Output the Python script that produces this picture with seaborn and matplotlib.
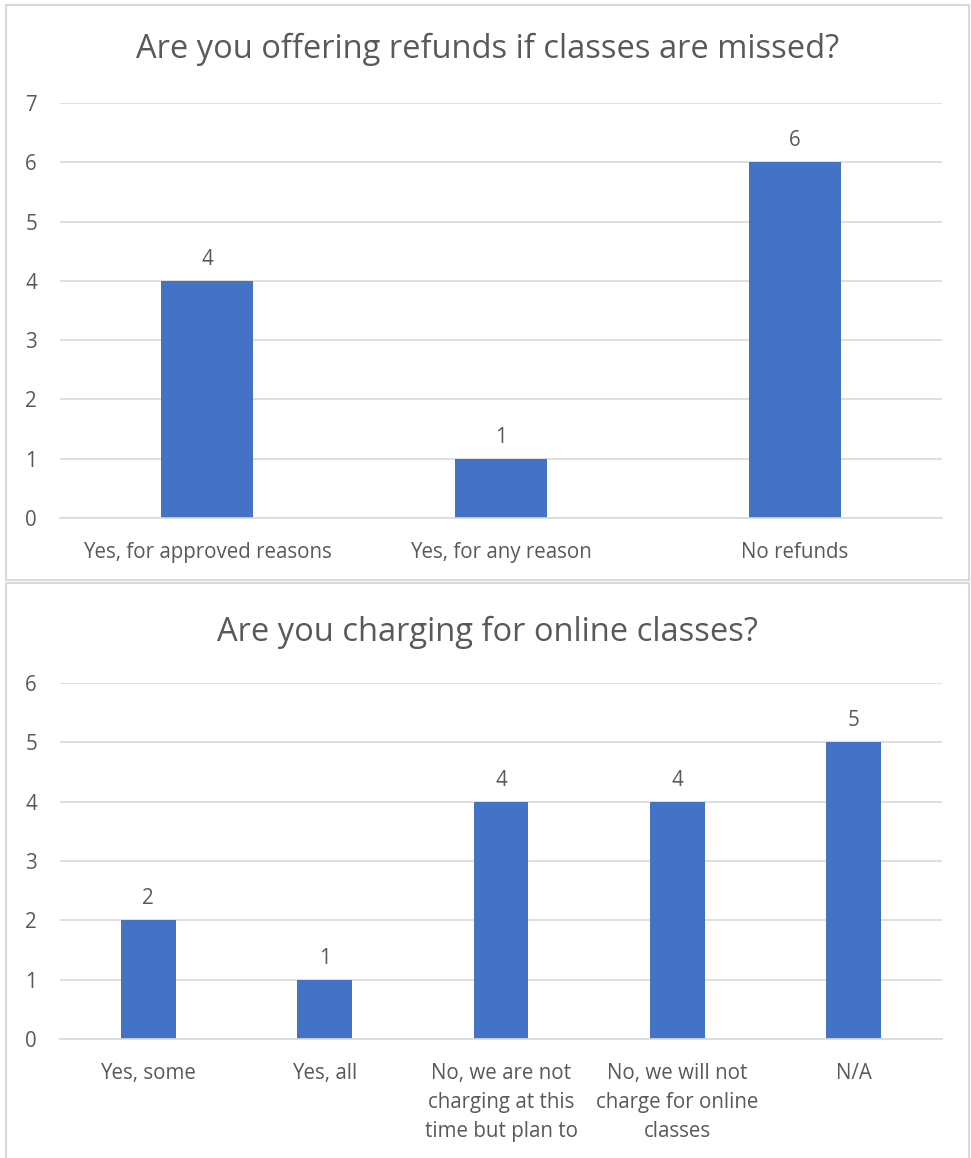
import matplotlib
matplotlib.use("Agg")
import matplotlib.pyplot as plt
import seaborn as sns
import pandas as pd
from matplotlib.patches import Rectangle

title1 = "Are you offering refunds if classes are missed?"
cats1 = ["Yes, for approved reasons", "Yes, for any reason", "No refunds"]
vals1 = [4, 1, 6]

title2 = "Are you charging for online classes?"
cats2 = ["Yes, some", "Yes, all", "No, we are not\ncharging at this\ntime but plan to",
         "No, we will not\ncharge for online\nclasses", "N/A"]
vals2 = [2, 1, 4, 4, 5]

BAR = "#4472C4"
GRID = "#D9D9D9"
TXT = "#595959"

sns.set_theme(style="white")
plt.rcParams['font.family'] = ['Open Sans', 'DejaVu Sans']

W, H = 971, 1158
fig = plt.figure(figsize=(W / 100, H / 100), dpi=100)

def px_rect(x0, y0, x1, y1):
    return [x0 / W, 1 - y1 / H, (x1 - x0) / W, (y1 - y0) / H]

# frames
for (x0, y0, x1, y1) in [(6, 5, 969, 580), (6, 583, 969, 1175)]:
    fig.patches.append(Rectangle((x0 / W, 1 - y1 / H), (x1 - x0) / W, (y1 - y0) / H,
                                 transform=fig.transFigure, fill=False,
                                 edgecolor=GRID, linewidth=1.5))

FS = 14.8

def draw(ax, cats, vals, ymax, title, title_y):
    df = pd.DataFrame({"cat": cats, "val": vals})
    sns.barplot(data=df, x="cat", y="val", ax=ax, color=BAR, width=0.31,
                saturation=1, edgecolor="none")
    ax.set_xlim(-0.5, len(cats) - 0.5)
    ax.set_ylim(0, ymax)
    ax.set_yticks(range(0, ymax + 1))
    ax.yaxis.grid(True, color=GRID, linewidth=1.2)
    ax.set_axisbelow(True)
    for s in ["top", "right", "left"]:
        ax.spines[s].set_visible(False)
    ax.spines["bottom"].set_color(GRID)
    ax.spines["bottom"].set_linewidth(1.2)
    ax.tick_params(axis="both", length=0, colors=TXT, labelsize=FS)
    ax.tick_params(axis="y", pad=25)
    ax.tick_params(axis="x", pad=17)
    for lab in ax.get_yticklabels():
        lab.set_horizontalalignment("left")
    ax.set_xlabel("")
    ax.set_ylabel("")
    for lab in ax.get_xticklabels():
        lab.set_linespacing(1.5)
    for c in ax.containers:
        ax.bar_label(c, padding=8, color=TXT, fontsize=FS)
    fig.text(0.5 * (6 + 969) / W, 1 - title_y / H, title, ha="center", va="center",
             fontsize=23.5, color=TXT)

ax1 = fig.add_axes(px_rect(60, 103, 942, 518))
draw(ax1, cats1, vals1, 7, title1, 49)
ax2 = fig.add_axes(px_rect(60, 683, 942, 1039))
draw(ax2, cats2, vals2, 6, title2, 632)

fig.savefig("out.png", dpi=100)
